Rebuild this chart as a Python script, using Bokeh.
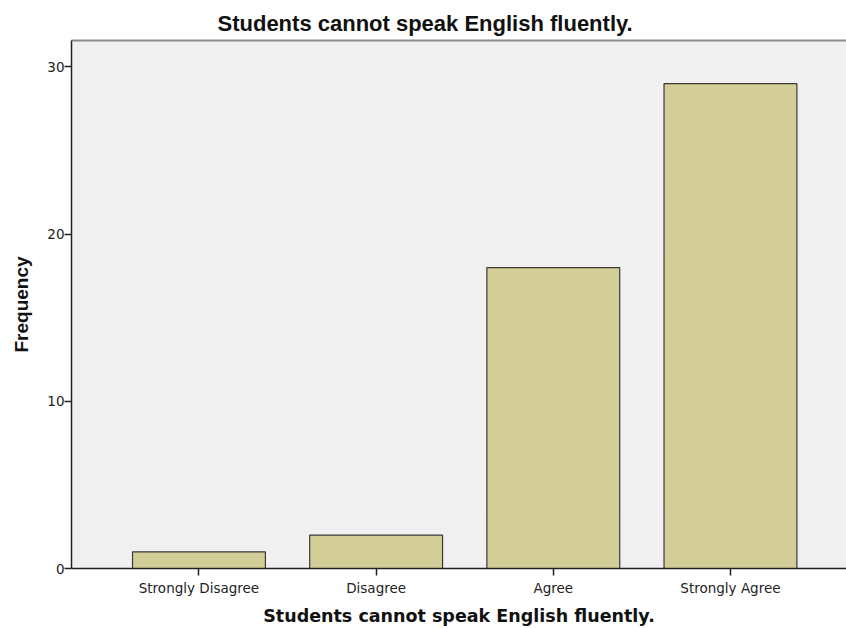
from bokeh.plotting import figure
from bokeh.models import Range1d, FixedTicker, LinearAxis, Title
from bokeh.embed import file_html
from bokeh.resources import INLINE

categories = ["Strongly Disagree", "Disagree", "Agree", "Strongly Agree"]
frequencies = [1, 2, 18, 29]
y_ticks = [0, 10, 20, 30]
chart_title = "Students cannot speak English fluently."
x_label = "Students cannot speak English fluently."
y_label = "Frequency"

xs = list(range(1, len(categories) + 1))

p = figure(width=846, height=628, output_backend="svg", toolbar_location=None,
           x_range=Range1d(0.2805, 4.655), y_range=Range1d(0, 31.585),
           min_border_left=71, min_border_right=0, min_border_top=40, min_border_bottom=60)

p.background_fill_color = "#f0f0f0"
p.border_fill_color = "white"
p.outline_line_color = None
p.xgrid.visible = False
p.ygrid.visible = False

p.vbar(x=xs, top=frequencies, width=0.75, bottom=0,
       fill_color="#d3ce97", line_color="#3a3a3a", line_width=1.2)

# axes
xa = p.xaxis[0]
xa.ticker = FixedTicker(ticks=xs)
xa.major_label_overrides = {x: c for x, c in zip(xs, categories)}
xa.minor_tick_line_color = None
xa.major_tick_in = 0
xa.major_tick_out = 7
xa.major_label_standoff = 4
xa.axis_line_color = "#222222"
xa.axis_line_width = 1.5
xa.major_tick_line_color = "#222222"
xa.major_tick_line_width = 1.5
xa.major_label_text_font = "DejaVu Sans"
xa.major_label_text_font_size = "13.5px"
xa.major_label_text_color = "#222222"
xa.axis_label = x_label
xa.axis_label_text_font = "DejaVu Sans"
xa.axis_label_text_font_style = "bold"
xa.axis_label_text_font_size = "17.5px"
xa.axis_label_text_color = "#111111"
xa.axis_label_standoff = 7

ya = p.yaxis[0]
ya.ticker = FixedTicker(ticks=y_ticks)
ya.minor_tick_line_color = None
ya.major_tick_in = 0
ya.major_tick_out = 7
ya.major_label_standoff = 0
ya.axis_line_color = "#222222"
ya.axis_line_width = 1.5
ya.major_tick_line_color = "#222222"
ya.major_tick_line_width = 1.5
ya.major_label_text_font = "DejaVu Sans"
ya.major_label_text_font_size = "13.5px"
ya.major_label_text_color = "#222222"
ya.axis_label = y_label
ya.axis_label_text_font = "Liberation Sans"
ya.axis_label_text_font_style = "bold"
ya.axis_label_text_font_size = "19px"
ya.axis_label_text_color = "#111111"
ya.axis_label_standoff = 12

top_axis = LinearAxis(ticker=FixedTicker(ticks=[]), major_label_text_font_size="0px",
                      major_tick_line_color=None, minor_tick_line_color=None,
                      axis_line_color="#8a8a8a", axis_line_width=2)
p.add_layout(top_axis, "above")

t = Title(text=chart_title, align="left", offset=146, text_font="Liberation Sans",
          text_font_style="bold", text_font_size="22px", text_color="#111111", standoff=9)
p.add_layout(t, "above")

open("out.html", "w").write(file_html(p, INLINE))
